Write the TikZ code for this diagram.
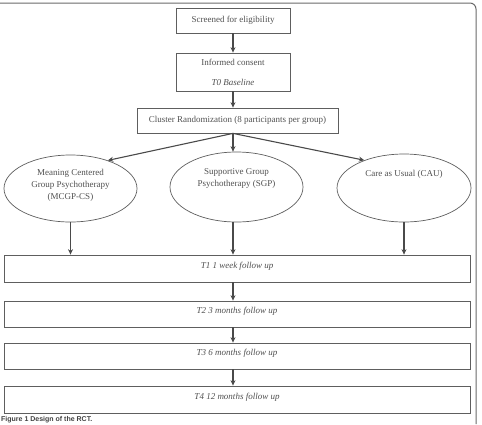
\documentclass[tikz,border=0pt]{standalone}
\usepackage{fontspec}
\setmainfont{Liberation Serif}
\newfontfamily\capfont{Liberation Sans}
\usetikzlibrary{shapes.geometric,arrows.meta}
\definecolor{textc}{HTML}{505050}
\definecolor{linec}{HTML}{5E5E5E}
\definecolor{arrc}{HTML}{4A4A4A}
\definecolor{framec}{HTML}{6A6A6A}
\definecolor{capc}{HTML}{404040}
\begin{document}
\begin{tikzpicture}[x=1pt,y=-1pt,
  txt/.style={font=\fontsize{9}{12}\selectfont, text=textc},
  box/.style={draw=linec, line width=0.75pt, txt, inner sep=0pt, align=center},
  tbox/.style={box, minimum width=466pt, text height=6pt, text depth=7pt, font=\fontsize{9}{12}\selectfont\itshape},
  grp/.style={ellipse, draw=linec, line width=0.7pt, inner sep=0pt},
  grptext/.style={txt, align=center, anchor=north, inner sep=0pt},
  arr/.style={draw=arrc, line width=1.1pt, -{Stealth[length=5.5pt,width=5pt]}},
]
\useasboundingbox (0,0) rectangle (482,424);
\draw[draw=framec, line width=1pt, rounded corners=6pt] (0,3) -- (476,3) -- (476,424);

\node[box, minimum width=114pt, minimum height=25pt] (screen) at (233,20.5) {Screened for eligibility};
\node[box, minimum width=114pt, minimum height=38pt] (consent) at (233,72) {Informed consent\\[8pt]\textit{T0 Baseline}};
\node[box, minimum width=201pt, minimum height=25pt] (cluster) at (237.5,120.5) {Cluster Randomization (8 participants per group)};
\coordinate (split) at (cluster.south -| screen.south);

\node[grp, minimum width=133pt, minimum height=67pt] (e1) at (70.5,188.5) {};
\node[grp, minimum width=133pt, minimum height=70pt] (e2) at (236.5,187) {};
\node[grp, minimum width=134pt, minimum height=68pt] (e3) at (404,188) {};
\node[grptext] (e1t) at (70.5,169) {Meaning Centered\\Group Psychotherapy\\(MCGP-CS)};
\node[grptext] (e2t) at (236.5,168.5) {Supportive Group\\Psychotherapy (SGP)};
\node[grptext] (e3t) at (404,170) {Care as Usual (CAU)};

\node[tbox, minimum height=27pt] (t1) at (237,268.5) {T1 1 week follow up};
\node[tbox, minimum height=26pt] (t2) at (237,314) {T2 3 months follow up};
\node[tbox, minimum height=26pt] (t3) at (237,356) {T3 6 months follow up};
\node[tbox, minimum height=27pt] (t4) at (237,399.5) {T4 12 months follow up};

\draw[arr] (screen.south) -- (consent.north);
\draw[arr] (consent.south) -- (consent.south |- cluster.north);
\draw[arr] (split) -- (e1.37);
\draw[arr] (split) -- (split |- e2.north);
\draw[arr] (split) -- (e3.145);
\draw[arr] (e1.south) -- (e1.south |- t1.north);
\draw[arr] (e2.south -| split) -- (split |- t1.north);
\draw[arr] (e3.south) -- (e3.south |- t1.north);
\draw[arr] (t1.south -| split) -- (split |- t2.north);
\draw[arr] (t2.south -| split) -- (split |- t3.north);
\draw[arr] (t3.south -| split) -- (split |- t4.north);

\node[anchor=west, inner sep=0pt, font={\fontsize{7}{8}\capfont\bfseries}, text=capc] (cap) at (1,419.5) {Figure 1 Design of the RCT.};
\end{tikzpicture}
\end{document}
